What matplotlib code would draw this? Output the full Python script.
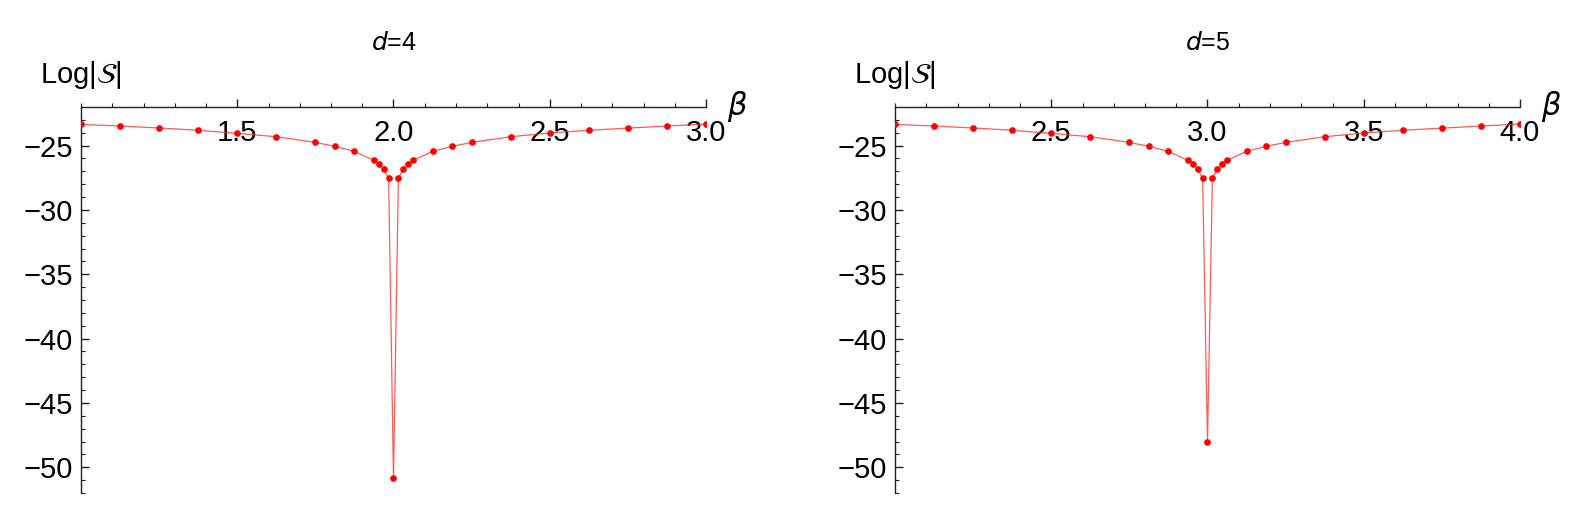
import numpy as np
import matplotlib
matplotlib.use('Agg')
import matplotlib.pyplot as plt

plt.rcParams['font.family'] = ['Liberation Sans', 'DejaVu Sans']
plt.rcParams['mathtext.fontset'] = 'dejavusans'

# d=4 panel, beta around 2.0
beta_d4 = [1.0, 1.125, 1.25, 1.375, 1.5, 1.625, 1.75, 1.8125, 1.875, 1.9375,
           1.953125, 1.96875, 1.984375, 2.0, 2.015625, 2.03125, 2.046875, 2.0625,
           2.125, 2.1875, 2.25, 2.375, 2.5, 2.625, 2.75, 2.875, 3.0]
logS_d4 = [-23.35, -23.48, -23.63, -23.81, -24.05, -24.31, -24.75, -25.06, -25.45, -26.15,
           -26.41, -26.85, -27.53, -50.86, -27.53, -26.85, -26.41, -26.15,
           -25.45, -25.06, -24.75, -24.31, -24.02, -23.81, -23.64, -23.48, -23.32]

# d=5 panel, beta around 3.0
beta_d5 = [2.0, 2.125, 2.25, 2.375, 2.5, 2.625, 2.75, 2.8125, 2.875, 2.9375,
           2.953125, 2.96875, 2.984375, 3.0, 3.015625, 3.03125, 3.046875, 3.0625,
           3.125, 3.1875, 3.25, 3.375, 3.5, 3.625, 3.75, 3.875, 4.0]
logS_d5 = [-23.35, -23.48, -23.63, -23.81, -24.05, -24.31, -24.75, -25.06, -25.45, -26.15,
           -26.41, -26.85, -27.53, -48.0, -27.53, -26.85, -26.41, -26.15,
           -25.45, -25.06, -24.75, -24.31, -24.02, -23.81, -23.64, -23.48, -23.32]

titles = ['4', '5']
xranges = [(1.0, 3.0), (2.0, 4.0)]
yrange = (-52, -22)

fig = plt.figure(figsize=(15.78, 5.19), dpi=100)
lefts = [81 / 1578, 895 / 1578]
width = 625 / 1578
bottom = 1 - 493 / 519
height = (493 - 107) / 519

for i, (xs, ys) in enumerate([(beta_d4, logS_d4), (beta_d5, logS_d5)]):
    ax = fig.add_axes([lefts[i], bottom, width, height])
    ax.plot(xs, ys, color='#ff3030', lw=0.9, alpha=0.8, zorder=2)
    ax.plot(xs, ys, 'o', color='red', ms=4.8, mec='none', zorder=3)
    ax.set_xlim(*xranges[i])
    ax.set_ylim(*yrange)

    # Mathematica-style axes: x axis sits at the top, ticks pointing inward
    ax.spines['top'].set_visible(False)
    ax.spines['right'].set_visible(False)
    ax.spines['bottom'].set_position(('data', -22))
    for s in ('left', 'bottom'):
        ax.spines[s].set_linewidth(1.0)
        ax.spines[s].set_color('#222222')

    x0 = xranges[i][0]
    major = np.arange(x0 + 0.5, x0 + 2.01, 0.5)
    ax.set_xticks(major)
    ax.set_xticks(np.arange(x0, x0 + 2.01, 0.1), minor=True)
    ax.set_xticklabels(['%.1f' % v for v in major])
    ax.set_yticks(np.arange(-50, -24, 5))
    ax.set_yticks(np.arange(-52, -22, 1), minor=True)

    ax.tick_params(axis='both', which='major', direction='in', length=5.5, width=1.0,
                   labelsize=21, color='#222222')
    ax.tick_params(axis='both', which='minor', direction='in', length=3.2, width=0.8,
                   color='#222222')
    ax.tick_params(axis='x', which='major', pad=9)
    ax.tick_params(axis='y', which='major', pad=6)

    ax.text(0.5, 1.0 + 64 / 386, '$d$=' + titles[i], transform=ax.transAxes,
            ha='center', va='center', fontsize=18)
    ax.text(0.0, 1.0 + 24 / 386, r'Log|$\mathcal{S}$|', transform=ax.transAxes,
            ha='center', va='baseline', fontsize=21)
    ax.text(1.0 + 31 / 625, 1.0, r'$\beta$', transform=ax.transAxes,
            ha='center', va='center', fontsize=22)

fig.savefig('out.png', dpi=100)
